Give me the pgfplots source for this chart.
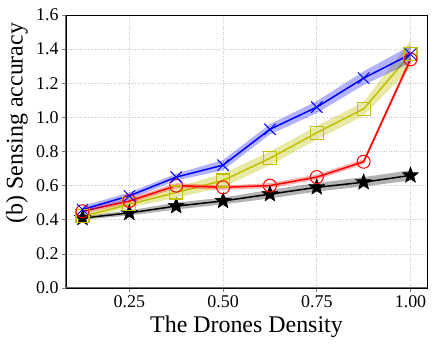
\documentclass[border=0pt]{standalone}
\usepackage{fontspec}
\setmainfont{Liberation Serif}
\usepackage{pgfplots}
\pgfplotsset{compat=1.18}
\usetikzlibrary{calc}

% filled five-pointed star
\pgfdeclareplotmark{fstar}{%
  \pgfpathmoveto{\pgfpointpolar{90}{\pgfplotmarksize}}%
  \pgfpathlineto{\pgfpointpolar{126}{0.42\pgfplotmarksize}}%
  \pgfpathlineto{\pgfpointpolar{162}{\pgfplotmarksize}}%
  \pgfpathlineto{\pgfpointpolar{198}{0.42\pgfplotmarksize}}%
  \pgfpathlineto{\pgfpointpolar{234}{\pgfplotmarksize}}%
  \pgfpathlineto{\pgfpointpolar{270}{0.42\pgfplotmarksize}}%
  \pgfpathlineto{\pgfpointpolar{306}{\pgfplotmarksize}}%
  \pgfpathlineto{\pgfpointpolar{342}{0.42\pgfplotmarksize}}%
  \pgfpathlineto{\pgfpointpolar{18}{\pgfplotmarksize}}%
  \pgfpathlineto{\pgfpointpolar{54}{0.42\pgfplotmarksize}}%
  \pgfpathclose
  \pgfusepathqfillstroke
}

\definecolor{myyellow}{rgb}{0.75,0.75,0}

\begin{document}
\begin{tikzpicture}
\begin{axis}[
    scale only axis,
    width=361bp, height=273bp,
    xmin=0.081, xmax=1.044,
    ymin=0, ymax=1.6,
    xtick={0.25,0.5,0.75,1.0},
    ytick={0,0.2,0.4,0.6,0.8,1.0,1.2,1.4,1.6},
    xticklabel style={/pgf/number format/.cd, fixed, fixed zerofill, precision=2},
    yticklabel style={/pgf/number format/.cd, fixed, fixed zerofill, precision=1},
    /pgf/number format/assume math mode=true,
    ticklabel style={font=\fontsize{18}{18}\selectfont},
    xlabel={The Drones Density},
    ylabel={(b) Sensing accuracy},
    every axis x label/.style={at={(rel axis cs:0.5,0)}, anchor=base, yshift=-45bp, font=\fontsize{24}{24}\selectfont},
    every axis y label/.style={at={(rel axis cs:0,0.604)}, xshift=-49bp, anchor=center, rotate=90, font=\fontsize{24}{24}\selectfont},
    tick align=outside,
    tick pos=left,
    major tick length=4bp,
    grid=major,
    major grid style={gray!45, dotted, line width=0.6bp},
    axis line style={black, line width=0.8bp},
    every tick/.style={gray, line width=0.6bp},
    clip=false,
]
% black band and line
\addplot[fill=black, fill opacity=0.3, draw=none, forget plot] coordinates {
  (0.125,0.42) (0.25,0.455) (0.375,0.50) (0.5,0.53) (0.625,0.575) (0.75,0.615) (0.875,0.65) (1.0,0.69)
  (1.0,0.63) (0.875,0.595) (0.75,0.565) (0.625,0.525) (0.5,0.49) (0.375,0.46) (0.25,0.425) (0.125,0.40)
} -- cycle;
\addplot[black, line width=1.5bp, mark=fstar, mark size=8.5bp, mark options={solid, fill=black, line width=0.4bp}] coordinates {
  (0.125,0.41) (0.25,0.44) (0.375,0.48) (0.5,0.51) (0.625,0.55) (0.75,0.59) (0.875,0.62) (1.0,0.66)
};
% yellow band and line
\addplot[fill=myyellow, fill opacity=0.35, draw=none, forget plot] coordinates {
  (0.125,0.435) (0.25,0.51) (0.375,0.59) (0.5,0.67) (0.625,0.80) (0.75,0.95) (0.875,1.09) (1.0,1.45)
  (1.0,1.29) (0.875,1.01) (0.75,0.87) (0.625,0.72) (0.5,0.59) (0.375,0.53) (0.25,0.47) (0.125,0.405)
} -- cycle;
\addplot[myyellow, line width=1.5bp, mark=square, mark size=6.5bp, mark options={solid, line width=1.2bp}] coordinates {
  (0.125,0.42) (0.25,0.49) (0.375,0.56) (0.5,0.63) (0.625,0.76) (0.75,0.91) (0.875,1.05) (1.0,1.37)
};
% red band and line
\addplot[fill=red, fill opacity=0.3, draw=none, forget plot] coordinates {
  (0.125,0.465) (0.25,0.525) (0.375,0.615) (0.5,0.60) (0.625,0.615) (0.75,0.665) (0.875,0.755) (1.0,1.36)
  (1.0,1.32) (0.875,0.725) (0.75,0.635) (0.625,0.585) (0.5,0.575) (0.375,0.585) (0.25,0.495) (0.125,0.435)
} -- cycle;
\addplot[red, line width=1.5bp, mark=o, mark size=6.5bp, mark options={solid, line width=1bp}] coordinates {
  (0.125,0.45) (0.25,0.51) (0.375,0.60) (0.5,0.59) (0.625,0.60) (0.75,0.65) (0.875,0.74) (1.0,1.34)
};
% blue band and line
\addplot[fill=blue, fill opacity=0.3, draw=none, forget plot] coordinates {
  (0.125,0.48) (0.25,0.56) (0.375,0.67) (0.5,0.75) (0.625,0.96) (0.75,1.095) (0.875,1.27) (1.0,1.42)
  (1.0,1.32) (0.875,1.19) (0.75,1.025) (0.625,0.90) (0.5,0.69) (0.375,0.63) (0.25,0.52) (0.125,0.44)
} -- cycle;
\addplot[blue, line width=1.5bp, mark=x, mark size=8bp, mark options={solid, line width=1bp}] coordinates {
  (0.125,0.46) (0.25,0.54) (0.375,0.65) (0.5,0.72) (0.625,0.93) (0.75,1.06) (0.875,1.23) (1.0,1.37)
};
\draw[gray!80!black, line width=1bp] (rel axis cs:0,0) -- (rel axis cs:0,1);
\draw[gray!80!black, line width=1bp] (rel axis cs:0,0) -- (rel axis cs:1,0);
\end{axis}
\pgfresetboundingbox
\useasboundingbox ($(current axis.south west)+(-66bp,-61bp)$) rectangle ($(current axis.north east)+(9bp,15bp)$);
\end{tikzpicture}
\end{document}
